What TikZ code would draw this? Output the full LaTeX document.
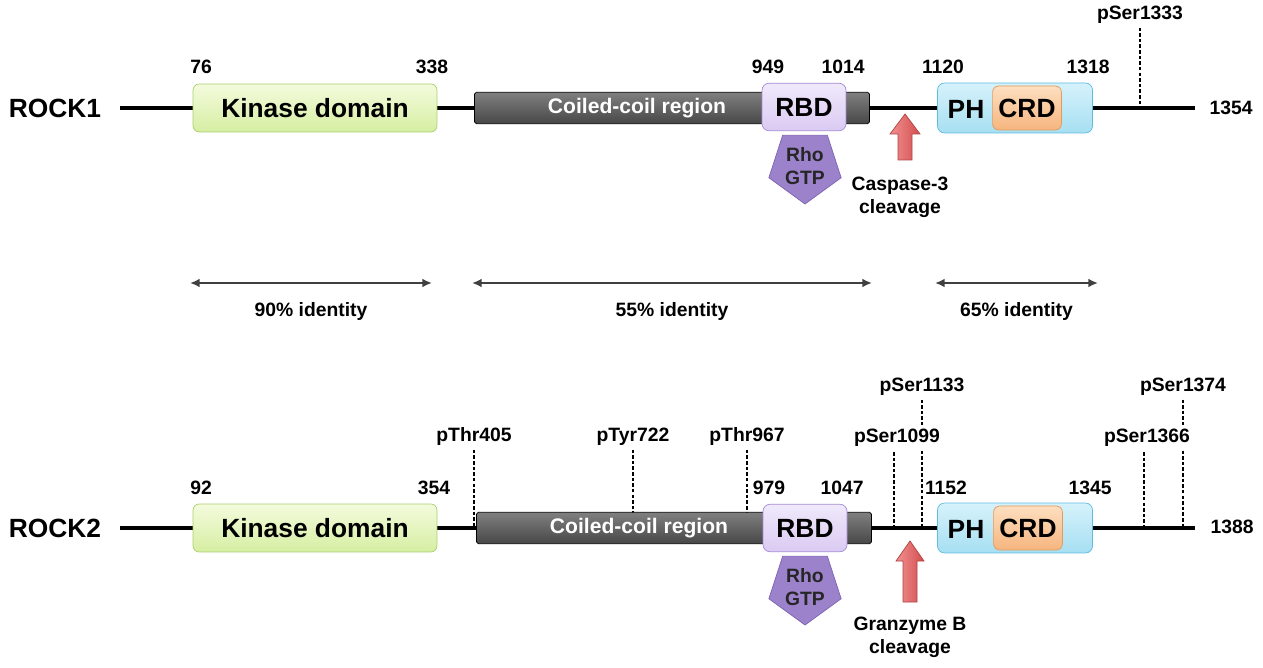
\documentclass[tikz,border=0pt]{standalone}
\usepackage{fontspec}
\setmainfont{Liberation Sans}
\usepackage{xcolor}
\usepackage{tikz}
\usetikzlibrary{shapes.geometric, arrows.meta, positioning, calc}

\definecolor{kinTop}{HTML}{F4FBDD}
\definecolor{kinBot}{HTML}{D6EEA2}
\definecolor{kinLine}{HTML}{A9CF6E}
\definecolor{rbdTop}{HTML}{F0E9FB}
\definecolor{rbdBot}{HTML}{DACAF2}
\definecolor{rbdLine}{HTML}{A48BD3}
\definecolor{rhoFill}{HTML}{9C82CB}
\definecolor{rhoLine}{HTML}{7D62B3}
\definecolor{phTop}{HTML}{D6F2FB}
\definecolor{phBot}{HTML}{A6DFF2}
\definecolor{phLine}{HTML}{5EBCDD}
\definecolor{crdTop}{HTML}{FDDFC0}
\definecolor{crdBot}{HTML}{F6B57F}
\definecolor{crdLine}{HTML}{E49A5A}
\definecolor{cutL}{HTML}{F29090}
\definecolor{cutR}{HTML}{D24E4E}

\begin{document}
\begin{tikzpicture}[x=0.02cm, y=-0.02cm,
    big/.style={font=\bfseries\fontsize{15}{17}\selectfont},
    num/.style={font=\bfseries\fontsize{11}{13}\selectfont, inner sep=2pt},
    kinase/.style={rectangle, rounded corners=3.5pt, draw=kinLine, top color=kinTop, bottom color=kinBot, minimum width=4.88cm, minimum height=0.96cm, big},
    coil/.style={rectangle, rounded corners=1pt, draw=black, top color=black!50, middle color=black!88, bottom color=black!72, minimum width=7.9cm, minimum height=0.57cm, text=white, font=\bfseries\fontsize{12}{14}\selectfont},
    rbd/.style={rectangle, rounded corners=4pt, draw=rbdLine, top color=rbdTop, bottom color=rbdBot, minimum width=1.68cm, minimum height=0.95cm, big},
    rho/.style={regular polygon, regular polygon sides=5, shape border rotate=180, inner sep=0pt, minimum size=1.52cm, fill=rhoFill, draw=rhoLine, text=black!85, align=center, font=\bfseries\fontsize{11}{13}\selectfont},
    ph/.style={rectangle, rounded corners=4pt, draw=phLine, top color=phTop, bottom color=phBot, minimum width=3.1cm, minimum height=1.0cm},
    crd/.style={rectangle, rounded corners=3.5pt, draw=crdLine, top color=crdTop, bottom color=crdBot, minimum width=1.25cm, minimum height=0.88cm, big},
    backbone/.style={line width=1.8pt},
    site/.style={line width=0.8pt, dash pattern=on 2pt off 1.2pt},
    span/.style={{Latex[length=5.5pt,width=5pt]}-{Latex[length=5.5pt,width=5pt]}, line width=1.4pt, black!75},
    cut/.style={left color=cutL, right color=cutR, draw=cutR!85!black, line width=0.4pt},
    note/.style={align=center, text=black, font=\bfseries\fontsize{11}{13}\selectfont}
]
\useasboundingbox (0,0) rectangle (1263,668);

\node[big] (rock1) at (55,108) {ROCK1};
\coordinate (n1) at (120,108);
\coordinate (c1) at (1195,108);
\draw[backbone] (n1) -- (c1);
\node[num] (len1) at (1231,108) {1354};

\node[kinase] (kin1) at (315,108) {Kinase domain};
\node[coil] (coil1) at (672,108) {\hspace*{-1.4cm}Coiled-coil region};
\node[rbd] (rbd1) at (804,107) {RBD};
\node[rho] (rho1) at (805,166) {Rho\\GTP};
\node[ph] (ph1) at (1015,108) {};
\node[big] (phl1) at (966,109) {PH};
\node[crd] (crd1) at (1027,108) {CRD};

\node[num] (a76) at (201,67) {76};
\node[num] (a338) at (432,67) {338};
\node[num] (a949) at (768,67) {949};
\node[num] (a1014) at (843,67) {1014};
\node[num] (a1120) at (943,67) {1120};
\node[num] (a1318) at (1088,67) {1318};

\node[num] (s1333) at (1140,15) {pSer1333};
\draw[site] (s1333.south) -- (s1333.south |- c1);

\draw[cut] (905,114) -- ++(15,20) -- ++(-8,0) -- ++(0,26) -- ++(-14,0) -- ++(0,-26) -- ++(-8,0) -- cycle;
\node[note] (casp) at (900,197) {Caspase-3\\cleavage};

\coordinate (i1a) at (190,283);
\coordinate (i1b) at (432,283);
\coordinate (i2a) at (472,283);
\coordinate (i2b) at (872,283);
\coordinate (i3a) at (935,283);
\coordinate (i3b) at (1098,283);
\draw[span] (i1a) -- node[note, below=7pt] {90\% identity} (i1b);
\draw[span] (i2a) -- node[note, below=7pt] {55\% identity} (i2b);
\draw[span] (i3a) -- node[note, below=7pt] {65\% identity} (i3b);

\node[big] (rock2) at (55,528) {ROCK2};
\coordinate (n2) at (120,528);
\coordinate (c2) at (1195,528);
\draw[backbone] (n2) -- (c2);
\node[num] (len2) at (1232,527) {1388};

\node[num] (t405) at (474,437) {pThr405};
\node[num] (y722) at (633,437) {pTyr722};
\node[num] (t967) at (747,437) {pThr967};
\node[num] (s1133) at (922,387) {pSer1133};
\node[num] (s1099) at (897,438) {pSer1099};
\node[num] (s1374) at (1183,387) {pSer1374};
\node[num] (s1366) at (1147,438) {pSer1366};
\draw[site] (t405.south) -- (t405.south |- n2);
\draw[site] (y722.south) -- (y722.south |- n2);
\draw[site] (t967.south) -- (t967.south |- n2);
\draw[site] (894,452) -- (894,526);
\draw[site] (s1133.south) -- (s1133.south |- s1099.north);
\draw[site] (s1133.south |- s1099.south) -- (s1133.south |- n2);
\draw[site] (1144,452) -- (1144,526);
\draw[site] (s1374.south) -- (s1374.south |- s1366.north);
\draw[site] (s1374.south |- s1366.south) -- (s1374.south |- n2);

\node[kinase] (kin2) at (315,528) {Kinase domain};
\node[coil] (coil2) at (674,528) {\hspace*{-1.4cm}Coiled-coil region};
\node[rbd] (rbd2) at (805,528) {RBD};
\node[rho] (rho2) at (805,587) {Rho\\GTP};
\node[ph] (ph2) at (1015,528) {};
\node[big] (phl2) at (966,529) {PH};
\node[crd] (crd2) at (1028,528) {CRD};

\node[num] (b92) at (201,488) {92};
\node[num] (b354) at (434,488) {354};
\node[num] (b979) at (769,488) {979};
\node[num] (b1047) at (842,488) {1047};
\node[num] (b1152) at (946,488) {1152};
\node[num] (b1345) at (1090,488) {1345};

\draw[cut] (910,541) -- ++(14,20) -- ++(-7,0) -- ++(0,41) -- ++(-14,0) -- ++(0,-41) -- ++(-7,0) -- cycle;
\node[note] (gzmb) at (910,637) {Granzyme B\\cleavage};

\end{tikzpicture}
\end{document}
